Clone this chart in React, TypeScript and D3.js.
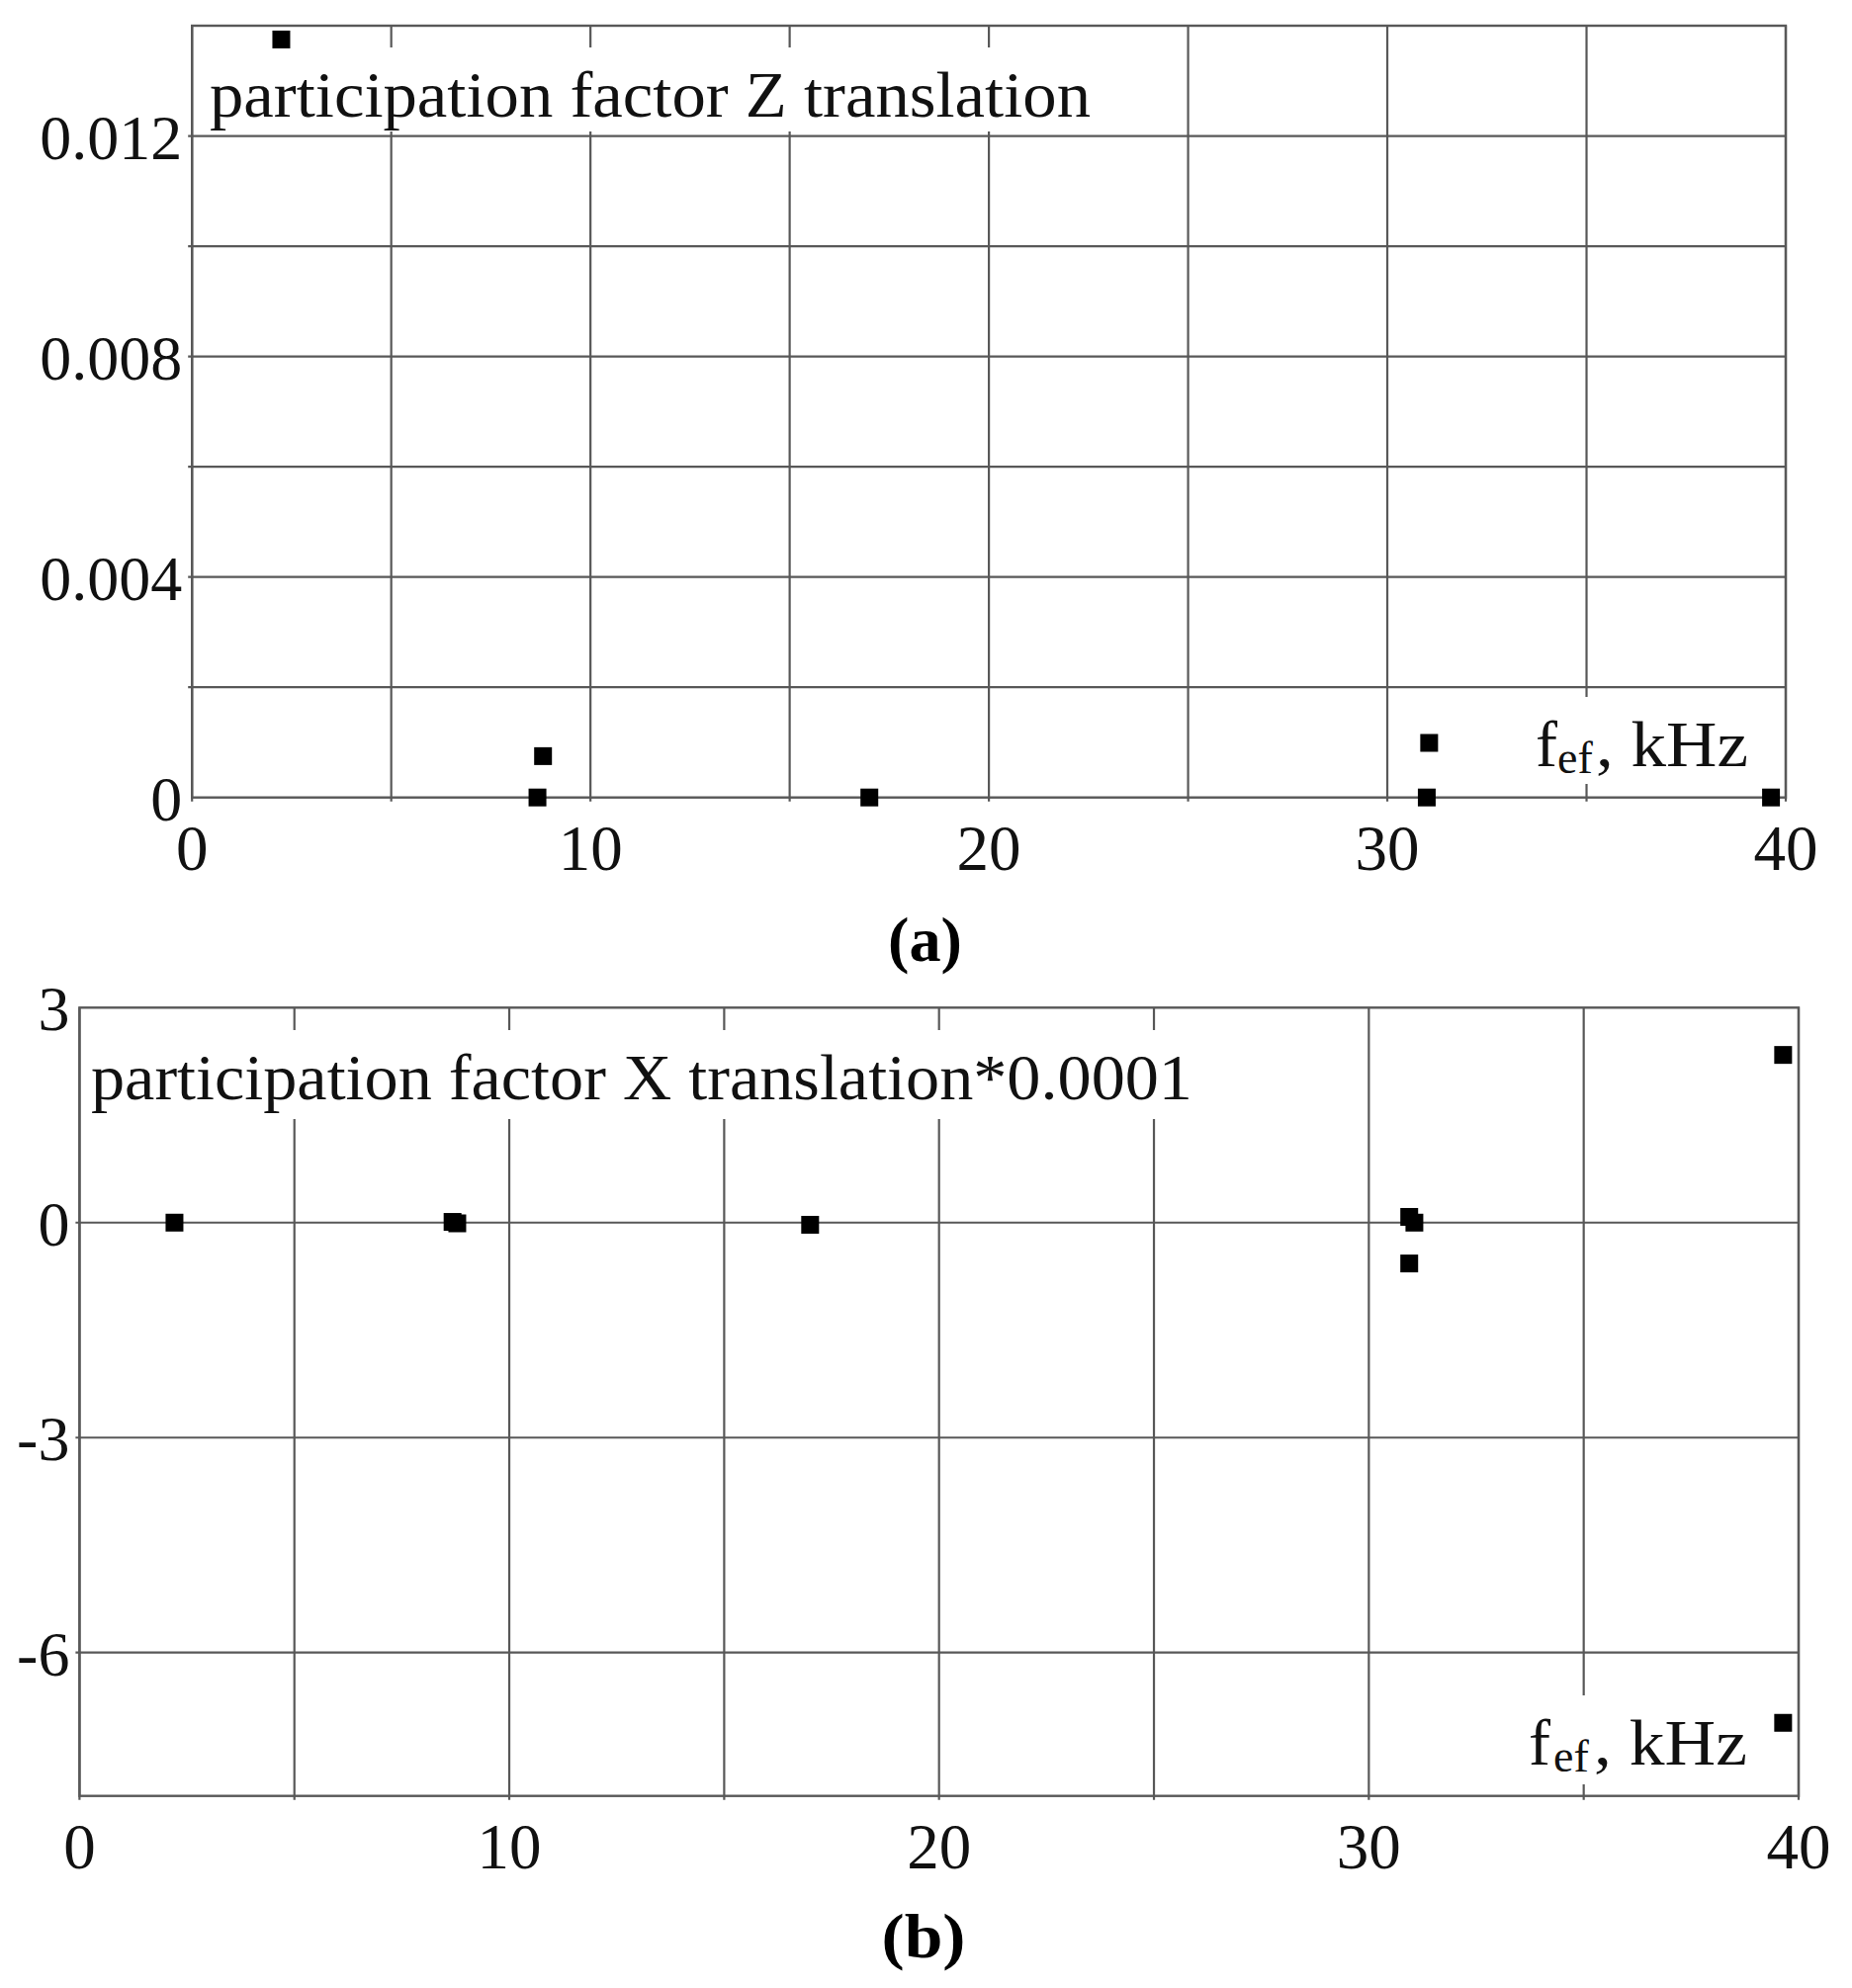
import React from "react";
import * as d3 from "d3";

// ---------- data ----------
// Panel (a): participation factor Z translation
const freqA = [2.24, 8.67, 8.81, 17.0, 30.99, 31.05, 39.63];
const valueA = [0.01375, 0, 0.00075, 0, 0, 0.00099, 0];

// Panel (b): participation factor X translation * 0.0001
const freqB = [2.21, 8.68, 8.79, 17.0, 30.94, 31.06, 30.94, 39.64, 39.64];
const valueB = [0, 0.01, -0.01, -0.03, 0.08, 0, -0.57, 2.34, -6.98];

// ticks / grid
const xGrid = [0, 5, 10, 15, 20, 25, 30, 35, 40];
const xLabels = [0, 10, 20, 30, 40];
const yGridA = [0.002, 0.004, 0.006, 0.008, 0.01, 0.012];
const yLabelsA = [0, 0.004, 0.008, 0.012];
const yGridB = [-6, -3, 0];
const yLabelsB = [-6, -3, 0, 3];

const titleA = "participation factor Z translation";
const titleB = "participation factor X translation*0.0001";

const FONT = "'Liberation Serif', 'Times New Roman', serif";
const GRID = "#585858";

type PanelProps = {
  xs: number[];
  ys: number[];
  yDomain: [number, number];
  yGrid: number[];
  yLabels: number[];
  yFmt: (v: number) => string;
  box: { left: number; right: number; top: number; bottom: number };
  title: string;
  titleBox: { x: number; y: number; w: number; h: number; tx: number; ty: number; tw: number };
  unit: { x0: number; base: number; efx: number; commaX: number; commaW: number; rect: { x: number; y: number; w: number; h: number } };
};

function Panel(p: PanelProps) {
  const x = d3.scaleLinear().domain([0, 40]).range([p.box.left, p.box.right]);
  const y = d3.scaleLinear().domain(p.yDomain).range([p.box.bottom, p.box.top]);
  const m = 18;
  return (
    <g>
      {/* vertical grid */}
      {xGrid.map((v) => (
        <line key={"vx" + v} x1={x(v)} x2={x(v)} y1={y(p.yDomain[1])} y2={y(p.yDomain[0]) + 4} stroke={GRID} strokeWidth={2.2} />
      ))}
      {/* horizontal grid */}
      {p.yGrid.map((v) => (
        <line key={"hy" + v} x1={x(0) - 4} x2={x(40)} y1={y(v)} y2={y(v)} stroke={GRID} strokeWidth={2.2} />
      ))}
      {/* white boxes behind in-plot labels */}
      <rect x={p.titleBox.x} y={p.titleBox.y} width={p.titleBox.w} height={p.titleBox.h} fill="#fff" />
      <rect x={p.unit.rect.x} y={p.unit.rect.y} width={p.unit.rect.w} height={p.unit.rect.h} fill="#fff" />
      {/* frame */}
      <rect x={x(0)} y={y(p.yDomain[1])} width={x(40) - x(0)} height={y(p.yDomain[0]) - y(p.yDomain[1])} fill="none" stroke={GRID} strokeWidth={2.4} />
      {/* title */}
      <text x={p.titleBox.tx} y={p.titleBox.ty} fontFamily={FONT} fontSize={65} fill="#111" textLength={p.titleBox.tw} lengthAdjust="spacingAndGlyphs">
        {p.title}
      </text>
      {/* axis unit label */}
      <text x={p.unit.x0} y={p.unit.base} fontFamily={FONT} fontSize={66} fill="#111">f</text>
      <text x={p.unit.efx} y={p.unit.base + 7} fontFamily={FONT} fontSize={46} fill="#111">ef</text>
      <text x={p.unit.commaX} y={p.unit.base} fontFamily={FONT} fontSize={66} fill="#111" textLength={p.unit.commaW} lengthAdjust="spacingAndGlyphs">
        , kHz
      </text>
      {/* y tick labels */}
      {p.yLabels.map((v) => (
        <text key={"yl" + v} x={x(0) - 10} y={y(v) + 23} textAnchor="end" fontFamily={FONT} fontSize={64} fill="#111">
          {p.yFmt(v)}
        </text>
      ))}
      {/* x tick labels */}
      {xLabels.map((v) => (
        <text key={"xl" + v} x={x(v)} y={y(p.yDomain[0]) + 73} textAnchor="middle" fontFamily={FONT} fontSize={65} fill="#111">
          {v}
        </text>
      ))}
      {/* points */}
      {p.xs.map((f, i) => (
        <rect key={"pt" + i} x={x(f) - m / 2} y={y(p.ys[i]) - m / 2} width={m} height={m} fill="#000" />
      ))}
    </g>
  );
}

export default function App() {
  return (
    <svg
      width={1873}
      height={2011}
      viewBox="0 0 1873 2011"
      style={{ position: "absolute", left: 0, top: 0, background: "#fff" }}
    >
      <rect x={0} y={0} width={1873} height={2011} fill="#fff" />
      <Panel
        xs={freqA}
        ys={valueA}
        yDomain={[0, 0.014]}
        yGrid={yGridA}
        yLabels={yLabelsA}
        yFmt={(v) => (v === 0 ? "0" : d3.format(".3f")(v))}
        box={{ left: 194.2, right: 1806, top: 26, bottom: 806.7 }}
        title={titleA}
        titleBox={{ x: 204, y: 48, w: 910, h: 85, tx: 212, ty: 118, tw: 891 }}
        unit={{ x0: 1553, base: 775, efx: 1575, commaX: 1614, commaW: 154, rect: { x: 1545, y: 705, w: 232, h: 88 } }}
      />
      <Panel
        xs={freqB}
        ys={valueB}
        yDomain={[-8, 3]}
        yGrid={yGridB}
        yLabels={yLabelsB}
        yFmt={(v) => String(v)}
        box={{ left: 80.4, right: 1819, top: 1019.3, bottom: 1816.7 }}
        title={titleB}
        titleBox={{ x: 86, y: 1042, w: 1135, h: 90, tx: 92, ty: 1112, tw: 1114 }}
        unit={{ x0: 1546, base: 1785, efx: 1571, commaX: 1612, commaW: 155, rect: { x: 1538, y: 1715, w: 238, h: 90 } }}
      />
      <text x={935.5} y={972} textAnchor="middle" fontFamily={FONT} fontWeight="bold" fontSize={64} fill="#000" textLength={75} lengthAdjust="spacingAndGlyphs">
        (a)
      </text>
      <text x={934} y={1980} textAnchor="middle" fontFamily={FONT} fontWeight="bold" fontSize={64} fill="#000" textLength={85} lengthAdjust="spacingAndGlyphs">
        (b)
      </text>
    </svg>
  );
}
